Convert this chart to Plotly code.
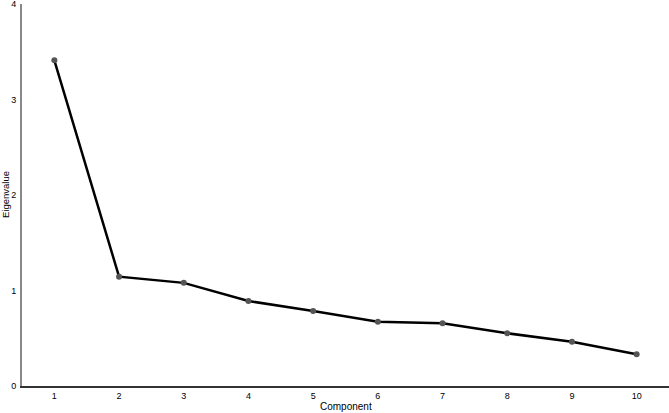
import plotly.graph_objects as go

# scree plot values
components = [1, 2, 3, 4, 5, 6, 7, 8, 9, 10]
eigenvalues = [3.41, 1.145, 1.08, 0.89, 0.785, 0.673, 0.656, 0.552, 0.464, 0.332]
y_ticks = [0, 1, 2, 3, 4]

fig = go.Figure()
fig.add_trace(go.Scatter(
    x=components, y=eigenvalues,
    mode="lines+markers",
    line=dict(color="black", width=2.5),
    marker=dict(color="#555555", size=6),
    showlegend=False,
))

fig.update_layout(
    width=669, height=413,
    margin=dict(l=22, r=0, t=4, b=27),
    plot_bgcolor="white", paper_bgcolor="white",
    font=dict(family="Liberation Sans, Arial", size=9, color="black"),
    xaxis=dict(
        range=[0.5, 10.5], tickvals=components,
        showgrid=False, zeroline=False,
        showline=True, linecolor="#333333", linewidth=1.5,
        ticks="", ticklabelstandoff=0,
        tickfont=dict(size=9),
    ),
    yaxis=dict(
        range=[0, 4], tickvals=y_ticks,
        showgrid=False, zeroline=False,
        showline=True, linecolor="#888888", linewidth=2,
        ticks="", ticklabelstandoff=2,
        ticklabeloverflow="allow",
        tickfont=dict(size=9),
    ),
    annotations=[
        dict(text="Component", xref="paper", yref="paper", x=0.5, y=0,
             yshift=-13, yanchor="top", showarrow=False, font=dict(size=10)),
        dict(text="Eigenvalue", xref="paper", yref="paper", x=0, y=0.5,
             xshift=-17, xanchor="center", textangle=-90, showarrow=False,
             font=dict(size=9.5)),
    ],
)

# browser default body margin would shift the figure by 8px
fig.write_html("out.html", config={"displayModeBar": False},
               post_script="document.body.style.margin='0';")
